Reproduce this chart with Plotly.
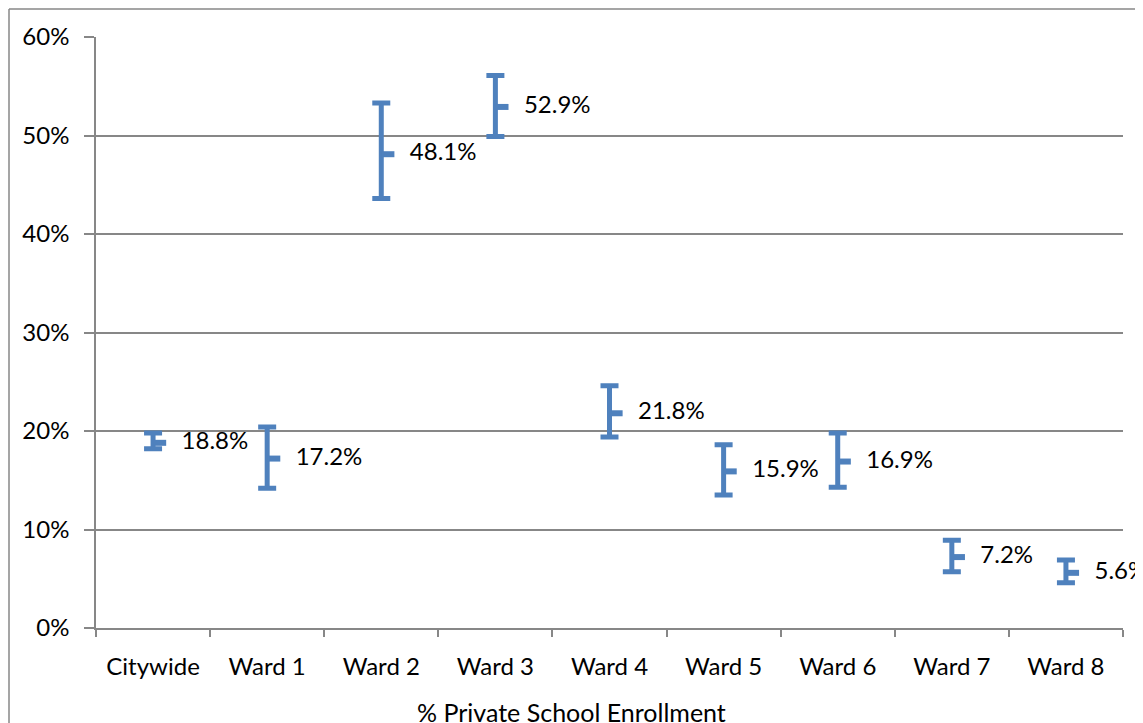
import numpy as np
import plotly.graph_objects as go

categorias = ["Citywide", "Ward 1", "Ward 2", "Ward 3", "Ward 4",
              "Ward 5", "Ward 6", "Ward 7", "Ward 8"]
alto = [19.8, 20.4, 53.3, 56.1, 24.6, 18.6, 19.8, 8.9, 6.9]
baixo = [18.2, 14.2, 43.6, 49.9, 19.4, 13.5, 14.3, 5.7, 4.6]
valor = [18.8, 17.2, 48.1, 52.9, 21.8, 15.9, 16.9, 7.2, 5.6]

azul = "#4F81BD"
cinza = "#878787"
fonte = dict(family="Lato, Calibri, sans-serif", size=24, color="#000000")

idx = np.arange(len(categorias))
mais = [a - v for a, v in zip(alto, valor)]
menos = [v - b for v, b in zip(valor, baixo)]

fig = go.Figure()

# linha alto-baixo com tracinhos + marca do valor à direita
fig.add_trace(go.Scatter(
    x=idx, y=valor, mode="markers",
    marker=dict(size=1, color=azul, opacity=0),
    error_y=dict(type="data", array=mais, arrayminus=menos, symmetric=False,
                 color=azul, thickness=5, width=9),
    error_x=dict(type="constant", value=0.115, valueminus=0, symmetric=False,
                 color=azul, thickness=6, width=0),
    showlegend=False, hoverinfo="skip",
))

fig.add_trace(go.Scatter(
    x=idx + 0.25, y=valor, mode="text",
    text=[f"{v:.1f}%" for v in valor],
    textposition="middle right", textfont=fonte,
    cliponaxis=False, showlegend=False, hoverinfo="skip",
))

fig.update_xaxes(
    range=[-0.5, 8.5], tickvals=idx, ticktext=categorias, ticks="",
    showline=True, linecolor=cinza, linewidth=1.5, showgrid=False, zeroline=False,
    tickfont=fonte, ticklabelstandoff=16,
    minor=dict(tickvals=list(idx - 0.5) + [8.5], ticks="outside", ticklen=7,
               tickcolor=cinza, tickwidth=1.5, showgrid=False),
)
fig.update_yaxes(
    range=[0, 60], dtick=10, ticksuffix="%",
    showline=True, linecolor=cinza, linewidth=1.5,
    showgrid=True, gridcolor=cinza, gridwidth=1.5, zeroline=False,
    ticks="outside", ticklen=10, tickcolor=cinza, tickwidth=1.5,
    tickfont=fonte, ticklabelstandoff=10,
)

# a página tem 8px de margem no body, por isso tudo está deslocado 8px
fig.add_annotation(
    text="% Private School Enrollment", xref="paper", yref="paper",
    x=(563 - 88) / 1027, y=(620 - 704) / 591, xanchor="center", yanchor="middle",
    showarrow=False, font=dict(fonte, size=25),
)

# moldura do gráfico (só esquerda e topo aparecem)
topo = (620 - 1) / 591
esq = (1 - 88) / 1027
fig.add_shape(type="line", xref="paper", yref="paper",
              x0=esq, x1=1.2, y0=topo, y1=topo, line=dict(color=cinza, width=1.5))
fig.add_shape(type="line", xref="paper", yref="paper",
              x0=esq, x1=esq, y0=-0.3, y1=topo, line=dict(color=cinza, width=1.5))

fig.update_layout(
    width=1135, height=715,
    margin=dict(l=88, r=20, t=29, b=95),
    paper_bgcolor="white", plot_bgcolor="white",
    showlegend=False,
)

fig.write_html("out.html")
